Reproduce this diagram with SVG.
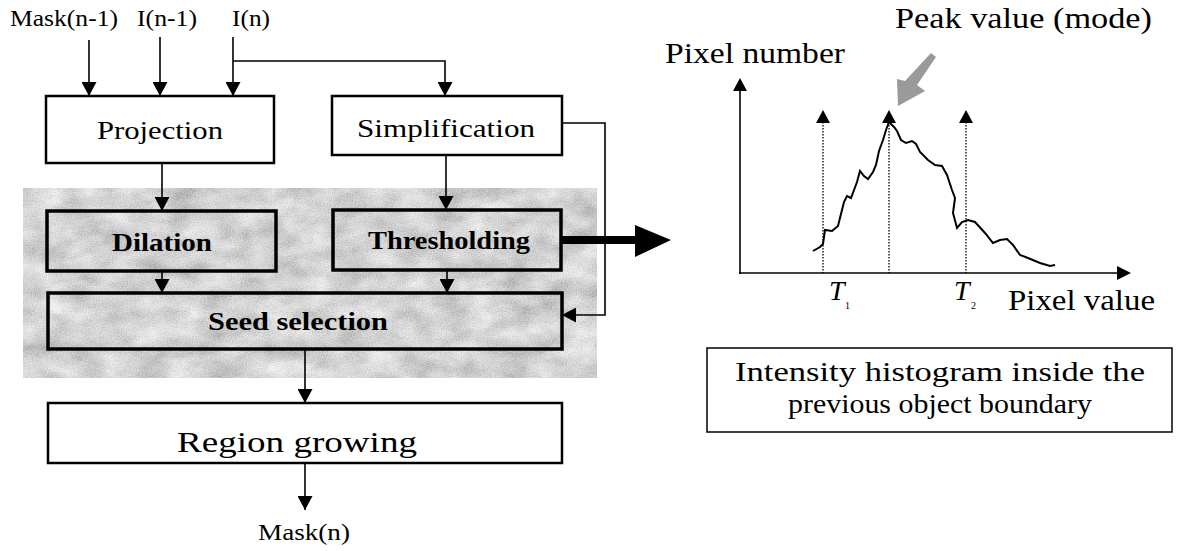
<svg xmlns="http://www.w3.org/2000/svg" width="1177" height="551" viewBox="0 0 1177 551">
<style>
  .t{font-family:"Liberation Serif","Times New Roman",serif;fill:#000}
  .b{font-weight:bold}
  .box{fill:none;stroke:#000;stroke-width:2.5}
  .tbox{fill:none;stroke:#000;stroke-width:3.5}
  .ln{fill:none;stroke:#000;stroke-width:1.6}
  .dot{fill:none;stroke:#000;stroke-width:1.3;stroke-dasharray:1.5 1.5}
  .ah{fill:#000}
</style>
<defs>
  <filter id="noise" x="0" y="0" width="100%" height="100%">
    <feTurbulence type="fractalNoise" baseFrequency="0.03 0.05" numOctaves="3" seed="4" result="n1"/>
    <feColorMatrix in="n1" type="matrix" values="0.55 0 0 0 0.47  0.55 0 0 0 0.47  0.55 0 0 0 0.47  0 0 0 0 1" result="g1"/>
    <feTurbulence type="fractalNoise" baseFrequency="0.8" numOctaves="1" seed="2" result="n2"/>
    <feColorMatrix in="n2" type="matrix" values="1 0 0 0 0  1 0 0 0 0  1 0 0 0 0  0 0 0 0 1" result="g2"/>
    <feComposite in="g1" in2="g2" operator="arithmetic" k1="0" k2="1" k3="0.45" k4="-0.32" result="g3"/>
    <feComposite in="g3" in2="SourceGraphic" operator="in"/>
  </filter>
  <marker id="arr" viewBox="0 0 14 15" refX="14" refY="7.5" markerWidth="14" markerHeight="15" markerUnits="userSpaceOnUse" orient="auto">
    <path d="M0,0 L14,7.5 L0,15 Z" fill="#000"/>
  </marker>
</defs>

<!-- gray textured background -->
<g id="shade">
  <rect x="23" y="188" width="574" height="190" fill="#b8b8b8" filter="url(#noise)"/>
</g>

<!-- top input labels -->
<g id="inputs">
  <text class="t" x="10" y="26" font-size="23" textLength="108" lengthAdjust="spacingAndGlyphs">Mask(n-1)</text>
  <text class="t" x="137" y="26" font-size="23" textLength="60" lengthAdjust="spacingAndGlyphs">I(n-1)</text>
  <text class="t" x="232" y="26" font-size="23" textLength="38" lengthAdjust="spacingAndGlyphs">I(n)</text>
</g>

<g id="projection">
  <rect class="box" x="46" y="96" width="228" height="67"/>
  <text class="t" x="160" y="139" font-size="26" text-anchor="middle" textLength="126" lengthAdjust="spacingAndGlyphs">Projection</text>
</g>
<g id="simplification">
  <rect class="box" x="332" y="96" width="230" height="59"/>
  <text class="t" x="446" y="137" font-size="26" text-anchor="middle" textLength="178" lengthAdjust="spacingAndGlyphs">Simplification</text>
</g>
<g id="dilation">
  <rect class="tbox" x="47" y="211" width="229" height="60"/>
  <text class="t b" x="162" y="251" font-size="26" text-anchor="middle" textLength="100" lengthAdjust="spacingAndGlyphs">Dilation</text>
</g>
<g id="thresholding">
  <rect class="tbox" x="333" y="210" width="228" height="60"/>
  <text class="t b" x="449" y="249" font-size="26" text-anchor="middle" textLength="162" lengthAdjust="spacingAndGlyphs">Thresholding</text>
</g>
<g id="seed">
  <rect class="tbox" x="48" y="293" width="514" height="56"/>
  <text class="t b" x="298" y="330" font-size="26" text-anchor="middle" textLength="180" lengthAdjust="spacingAndGlyphs">Seed selection</text>
</g>
<g id="region">
  <rect class="box" x="48" y="403" width="514" height="60"/>
  <text class="t" x="297" y="452" font-size="29" text-anchor="middle" textLength="240" lengthAdjust="spacingAndGlyphs">Region growing</text>
</g>
<g id="maskn">
  <text class="t" x="258" y="540" font-size="23" textLength="92" lengthAdjust="spacingAndGlyphs">Mask(n)</text>
</g>

<!-- connectors -->
<g id="connectors">
  <line class="ln" x1="89" y1="40" x2="89" y2="96" marker-end="url(#arr)"/>
  <line class="ln" x1="160" y1="37" x2="160" y2="96" marker-end="url(#arr)"/>
  <line class="ln" x1="233" y1="37" x2="233" y2="96" marker-end="url(#arr)"/>
  <polyline class="ln" points="233,61 445,61 445,96" marker-end="url(#arr)"/>
  <line class="ln" x1="162" y1="163" x2="162" y2="211" marker-end="url(#arr)"/>
  <line class="ln" x1="446" y1="155" x2="446" y2="210" marker-end="url(#arr)"/>
  <line class="ln" x1="162" y1="271" x2="162" y2="293" marker-end="url(#arr)"/>
  <line class="ln" x1="447" y1="270" x2="447" y2="293" marker-end="url(#arr)"/>
  <polyline class="ln" points="562,123 605,123 605,315 562,315" marker-end="url(#arr)"/>
  <line class="ln" x1="305" y1="349" x2="305" y2="403" marker-end="url(#arr)"/>
  <line class="ln" x1="305" y1="463" x2="305" y2="510" marker-end="url(#arr)"/>
  <!-- big arrow to histogram -->
  <path d="M561,236 L635,236 L635,225 L671,240 L635,257 L635,244 L561,244 Z" fill="#000"/>
</g>

<!-- histogram -->
<g id="histogram">
  <line class="ln" x1="740" y1="274" x2="740" y2="90" stroke-width="2"/>
  <path class="ah" d="M733,91 L740,78 L747,91 Z"/>
  <line class="ln" x1="739" y1="273" x2="1118" y2="273" stroke-width="2"/>
  <path class="ah" d="M1117,266 L1131,273 L1117,280 Z"/>
  <line class="dot" x1="823" y1="122" x2="823" y2="273"/>
  <path class="ah" d="M816,123 L823,110 L830,123 Z"/>
  <line class="dot" x1="889" y1="122" x2="889" y2="273"/>
  <path class="ah" d="M882,123 L889,110 L896,123 Z"/>
  <line class="dot" x1="966" y1="122" x2="966" y2="273"/>
  <path class="ah" d="M959,123 L966,110 L973,123 Z"/>
  <path fill="none" stroke="#000" stroke-width="2" d="M813,251 L820,247 L823,244 L825,230 L832,231 L838,226 L842,210 L844,202 L847,196 L851,198 L857,182 L860,171 L864,176 L868,179 L873,172 L876,165 L879,151 L883,140 L886,130 L889,122 L894,127 L897,131 L901,140 L906,143 L912,141 L916,144 L920,152 L928,160 L935,165 L942,166 L947,175 L952,190 L955,198 L953,213 L957,228 L962,222 L968,220 L975,222 L985,233 L993,243 L1000,240 L1007,239 L1013,245 L1020,255 L1028,258 L1040,263 L1050,266 L1055,265"/>
  <path fill="#9a9a9a" d="M931,53 L936,57 L917,85 L925,91 L898,106 L897,79 L905,81 Z"/>
  <text class="t" x="665" y="63" font-size="29" textLength="180" lengthAdjust="spacingAndGlyphs">Pixel number</text>
  <text class="t" x="895" y="28" font-size="30" textLength="257" lengthAdjust="spacingAndGlyphs">Peak value (mode)</text>
  <text class="t" x="1008" y="310" font-size="29" textLength="147" lengthAdjust="spacingAndGlyphs">Pixel value</text>
  <text class="t" x="829" y="300" font-size="28" font-style="italic">T</text>
  <text class="t" x="845" y="309" font-size="10">1</text>
  <text class="t" x="954" y="300" font-size="28" font-style="italic">T</text>
  <text class="t" x="971" y="309" font-size="10">2</text>
</g>

<g id="caption">
  <rect x="707" y="348" width="465" height="84" fill="none" stroke="#000" stroke-width="1.5"/>
  <text class="t" x="940" y="381" font-size="27" text-anchor="middle" textLength="410" lengthAdjust="spacingAndGlyphs">Intensity histogram inside the</text>
  <text class="t" x="940" y="413" font-size="27" text-anchor="middle" textLength="304" lengthAdjust="spacingAndGlyphs">previous object boundary</text>
</g>
</svg>
